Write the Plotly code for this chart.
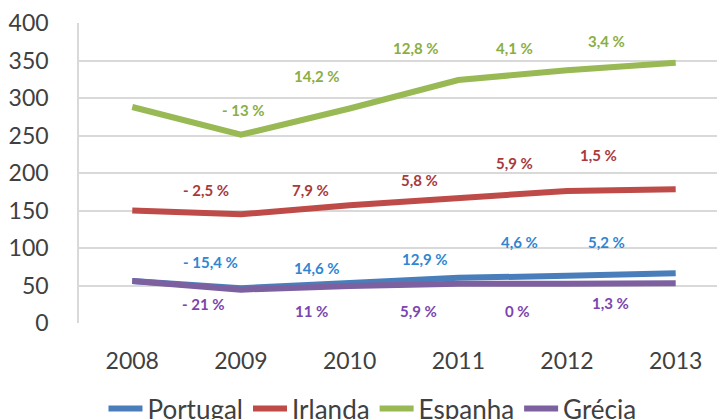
import plotly.graph_objects as go

years = [2008, 2009, 2010, 2011, 2012, 2013]
portugal = [56, 46.5, 53.5, 60.2, 63, 66.2]
irlanda = [150, 145, 157, 166, 176, 178.5]
espanha = [288, 251, 286, 324, 337, 347]
grecia = [56, 44.5, 49.5, 52.4, 52.4, 53]

series_names = ["Portugal", "Irlanda", "Espanha", "Grécia"]
series_values = [portugal, irlanda, espanha, grecia]
line_colors = ["#4A7EBB", "#BE4B48", "#98B954", "#7D60A0"]
label_colors = ["#2F86D2", "#A8393C", "#8AAE43", "#7A45B0"]

# growth labels (text) per series
labels_portugal = ["- 15,4 %", "14,6 %", "12,9 %", "4,6 %", "5,2 %"]
labels_irlanda = ["- 2,5 %", "7,9 %", "5,8 %", "5,9 %", "1,5 %"]
labels_espanha = ["- 13 %", "14,2 %", "12,8 %", "4,1 %", "3,4 %"]
labels_grecia = ["- 21 %", "11 %", "5,9 %", "0 %", "1,3 %"]
label_texts = [labels_portugal, labels_irlanda, labels_espanha, labels_grecia]

# label positions (data coordinates)
lx_portugal = [2008.72, 2009.70, 2010.69, 2011.56, 2012.36]
ly_portugal = [81, 73, 85, 108, 108]
lx_irlanda = [2008.68, 2009.64, 2010.64, 2011.52, 2012.29]
ly_irlanda = [177, 177, 191, 213, 224]
lx_espanha = [2009.02, 2009.70, 2010.61, 2011.52, 2012.36]
ly_espanha = [284, 329, 367, 367, 376]
lx_grecia = [2008.66, 2009.65, 2010.63, 2011.54, 2012.40]
ly_grecia = [25, 16, 16, 16, 27]
label_x = [lx_portugal, lx_irlanda, lx_espanha, lx_grecia]
label_y = [ly_portugal, ly_irlanda, ly_espanha, ly_grecia]

FONT = "Lato, 'Open Sans', sans-serif"

fig = go.Figure()
for name, vals, col in zip(series_names, series_values, line_colors):
    fig.add_trace(go.Scatter(x=years, y=vals, name=name, mode="lines",
                             line=dict(color=col, width=6)))

annotations = []
for texts, xs, ys, col in zip(label_texts, label_x, label_y, label_colors):
    for t, x, y in zip(texts, xs, ys):
        annotations.append(dict(x=x, y=y, xref="x", yref="y", text="<b>%s</b>" % t,
                                showarrow=False, font=dict(family=FONT, size=15, color=col)))

fig.update_layout(
    width=717, height=419,
    margin=dict(l=79, r=0, t=23, b=96, autoexpand=False),
    paper_bgcolor="white", plot_bgcolor="white",
    font=dict(family=FONT, size=23, color="#404040"),
    annotations=annotations,
    showlegend=True,
    legend=dict(orientation="h", x=0.46, y=-0.285, xanchor="center", yanchor="middle",
                font=dict(size=26, color="#404040"), itemwidth=34,
                traceorder="normal", tracegroupgap=0),
    xaxis=dict(range=[2007.51, 2013.38], tickmode="array", tickvals=years,
               ticktext=[str(y) for y in years], showgrid=False, zeroline=False,
               showline=False, ticks="", ticklabelstandoff=22,
               tickfont=dict(size=23, color="#404040")),
    yaxis=dict(range=[0, 400], tickmode="array", tickvals=[0, 50, 100, 150, 200, 250, 300, 350, 400],
               showgrid=True, gridcolor="#D9D9D9", gridwidth=1.5, zeroline=False,
               showline=True, linecolor="#D9D9D9", linewidth=1.5, ticks="",
               ticklabelstandoff=24, tickfont=dict(size=23, color="#404040")),
)

fig.write_html("out.html", config={"displayModeBar": False},
               post_script="document.body.style.margin='0';document.body.style.overflow='hidden';")
